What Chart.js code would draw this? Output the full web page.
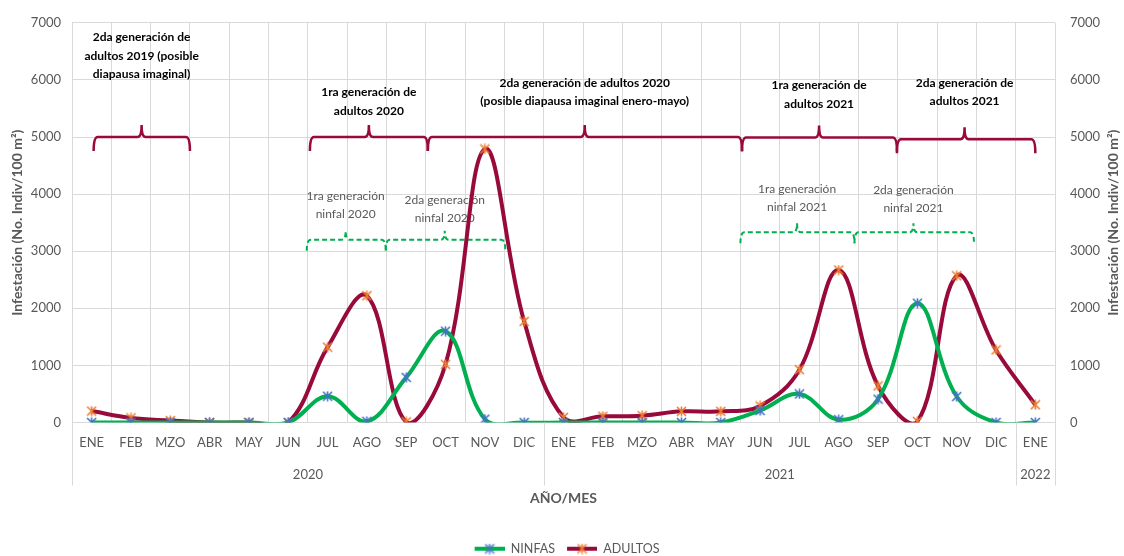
<!DOCTYPE html>
<html>
<head>
<meta charset="utf-8">
<script src="https://cdn.jsdelivr.net/npm/chart.js@4.4.1/dist/chart.umd.min.js"></script>
<style>
    html, body { margin: 0; padding: 0; background: #fff; }
</style>
</head>
<body>
<canvas id="infestChart" width="1124" height="556"></canvas>
<script>
// Data
const months = ['ENE', 'FEB', 'MZO', 'ABR', 'MAY', 'JUN', 'JUL', 'AGO', 'SEP', 'OCT', 'NOV', 'DIC',
                'ENE', 'FEB', 'MZO', 'ABR', 'MAY', 'JUN', 'JUL', 'AGO', 'SEP', 'OCT', 'NOV', 'DIC',
                'ENE'];
const years = ['2020', '2021', '2022'];
const yearStart = [0, 12, 24];
const yearEnd = [11, 23, 24];
const ninfas = [0, 0, 0, 0, 0, 0, 460, 20, 790, 1600, 60, 0,
                0, 0, 0, 0, 0, 210, 500, 50, 410, 2090, 455, 0,
                0];
const adultos = [200, 80, 35, 0, 0, 0, 1320, 2220, 10, 1020, 4790, 1770,
                 90, 110, 120, 195, 195, 290, 925, 2670, 640, 20, 2570, 1270,
                 310];
const yTicks = [0, 1000, 2000, 3000, 4000, 5000, 6000, 7000];

// Generation brackets: from / to / tip in month index, level in individuals
const adultBrackets = [
    { from: 0.05, to: 2.5, tip: 1.27, level: 5000, text: ['2da generación de', 'adultos 2019 (posible', 'diapausa imaginal)'], textAt: 6095 },
    { from: 5.55, to: 8.55, tip: 7.05, level: 5000, text: ['1ra generación de', 'adultos 2020'], textAt: 5460 },
    { from: 8.55, to: 16.54, tip: 12.54, level: 5000, text: ['2da generación de adultos 2020', '(posible diapausa imaginal enero-mayo)'], textAt: 5620 },
    { from: 16.54, to: 20.48, tip: 18.5, level: 4990, text: ['1ra generación de', 'adultos 2021'], textAt: 5580 },
    { from: 20.48, to: 24.0, tip: 22.2, level: 4960, text: ['2da generación de', 'adultos 2021'], textAt: 5620 }
];
const nymphBrackets = [
    { from: 5.47, to: 7.48, tip: 6.46, level: 3200, text: ['1ra generación', 'ninfal 2020'], textAt: 3655 },
    { from: 7.48, to: 10.52, tip: 8.98, level: 3200, text: ['2da generación', 'ninfal 2020'], textAt: 3585 },
    { from: 16.5, to: 19.4, tip: 17.94, level: 3330, text: ['1ra generación', 'ninfal 2021'], textAt: 3775 },
    { from: 19.4, to: 22.44, tip: 20.9, level: 3330, text: ['2da generación', 'ninfal 2021'], textAt: 3755 }
];

const FONT = "Lato, 'Liberation Sans', Arial, sans-serif";
const GRID = '#d9d9d9';
const TEXT = '#595959';
const GREEN = '#00b050';
const WINE = '#990a3c';

// Excel-like asterisk marker
function makeMarker(color, size) {
    const c = document.createElement('canvas');
    c.width = size; c.height = size;
    const g = c.getContext('2d');
    const h = size / 2, r = size / 2 - 1;
    g.strokeStyle = color;
    g.lineWidth = 1.6;
    g.beginPath();
    g.moveTo(h - r, h - r); g.lineTo(h + r, h + r);
    g.moveTo(h + r, h - r); g.lineTo(h - r, h + r);
    g.moveTo(h, h - r - 0.5); g.lineTo(h, h + r + 0.5);
    g.stroke();
    return c;
}

// legend symbol: short line with the marker, some blank room on the left
function makeLegendIcon(lineColor, markerColor) {
    const c = document.createElement('canvas');
    c.width = 40; c.height = 12;
    const g = c.getContext('2d');
    g.strokeStyle = lineColor;
    g.lineWidth = 4;
    g.beginPath(); g.moveTo(10, 6); g.lineTo(40, 6); g.stroke();
    g.drawImage(makeMarker(markerColor, 11), 19.5, 0.5);
    return c;
}

const blueStar = makeMarker('#4472c4', 11);
const orangeStar = makeMarker('#ed7d31', 11);

function drawBrace(ctx, x1, x2, xm, y, hook, tip) {
    const r = 4;
    ctx.beginPath();
    ctx.moveTo(x1, y + hook);
    ctx.quadraticCurveTo(x1, y, x1 + r, y);
    ctx.lineTo(xm - r, y);
    ctx.quadraticCurveTo(xm, y, xm, y - tip);
    ctx.quadraticCurveTo(xm, y, xm + r, y);
    ctx.lineTo(x2 - r, y);
    ctx.quadraticCurveTo(x2, y, x2, y + hook);
    ctx.stroke();
}

// Brackets and generation labels, drawn under the lines
const bracketPlugin = {
    id: 'brackets',
    afterInit(chart) {
        // legend sits closer to the bottom edge than Chart.js puts it
        const lg = chart.legend;
        if (lg) {
            const fit = lg.fit.bind(lg);
            lg.fit = function () { fit(); this.height -= 9; };
        }
    },
    beforeDatasetsDraw(chart) {
        const ctx = chart.ctx;
        const xs = chart.scales.x;
        const ys = chart.scales.y;
        ctx.save();
        ctx.textAlign = 'center';
        ctx.textBaseline = 'middle';

        ctx.strokeStyle = WINE;
        ctx.lineWidth = 2.5;
        ctx.setLineDash([]);
        adultBrackets.forEach(b => {
            drawBrace(ctx, xs.getPixelForValue(b.from), xs.getPixelForValue(b.to),
                xs.getPixelForValue(b.tip), ys.getPixelForValue(b.level), 14, 12);
        });
        ctx.fillStyle = '#000';
        ctx.font = 'bold 12px ' + FONT;
        adultBrackets.forEach(b => {
            const x = xs.getPixelForValue(b.tip);
            const yLast = ys.getPixelForValue(b.textAt);
            b.text.forEach((line, i) => {
                ctx.fillText(line, x, yLast - (b.text.length - 1 - i) * 18.5);
            });
        });

        ctx.strokeStyle = GREEN;
        ctx.lineWidth = 2;
        ctx.setLineDash([5, 3]);
        nymphBrackets.forEach(b => {
            drawBrace(ctx, xs.getPixelForValue(b.from), xs.getPixelForValue(b.to),
                xs.getPixelForValue(b.tip), ys.getPixelForValue(b.level), 11, 9);
        });
        ctx.setLineDash([]);
        ctx.fillStyle = TEXT;
        ctx.font = '12px ' + FONT;
        nymphBrackets.forEach(b => {
            const x = xs.getPixelForValue(b.tip);
            const yLast = ys.getPixelForValue(b.textAt);
            b.text.forEach((line, i) => {
                ctx.fillText(line, x, yLast - (b.text.length - 1 - i) * 17.5);
            });
        });
        ctx.restore();
    },
    afterDraw(chart) {
        // year separators under the month labels
        const ctx = chart.ctx;
        const yr = chart.scales.x2;
        const bottom = chart.chartArea.bottom;
        ctx.save();
        ctx.strokeStyle = GRID;
        ctx.lineWidth = 1;
        const cuts = [yearStart[0] - 0.5].concat(yearEnd.map(v => v + 0.5));
        cuts.forEach(v => {
            const x = Math.round(yr.getPixelForValue(v)) + 0.5;
            ctx.beginPath();
            ctx.moveTo(x, bottom);
            ctx.lineTo(x, yr.top + 28);
            ctx.stroke();
        });

        // right axis title, reading bottom to top like the left one
        const y2 = chart.scales.y2;
        ctx.translate(y2.right - 11, (chart.chartArea.top + chart.chartArea.bottom) / 2);
        ctx.rotate(-Math.PI / 2);
        ctx.fillStyle = TEXT;
        ctx.font = 'bold 14px ' + FONT;
        ctx.textAlign = 'center';
        ctx.textBaseline = 'middle';
        ctx.fillText('Infestación (No. Indiv/100 m²)', 0, 0);
        ctx.restore();
    }
};

const yearCenters = yearStart.map((s, i) => (s + yearEnd[i]) / 2);

new Chart(document.getElementById('infestChart'), {
    type: 'line',
    data: {
        labels: months,
        datasets: [
            {
                label: 'NINFAS',
                data: ninfas,
                borderColor: GREEN,
                borderWidth: 4,
                pointStyle: blueStar,
                tension: 0.38,
                xAxisID: 'x',
                yAxisID: 'y'
            },
            {
                label: 'ADULTOS',
                data: adultos,
                borderColor: WINE,
                borderWidth: 4,
                pointStyle: orangeStar,
                tension: 0.38,
                xAxisID: 'x',
                yAxisID: 'y'
            }
        ]
    },
    options: {
        responsive: false,
        animation: false,
        layout: { autoPadding: false, padding: { top: 17, right: 0, bottom: 0, left: 0 } },
        elements: { line: { capBezierPoints: false, fill: false } },
        plugins: {
            tooltip: { enabled: false },
            legend: {
                position: 'bottom',
                labels: {
                    usePointStyle: true,
                    pointStyleWidth: 40,
                    color: TEXT,
                    font: { family: FONT, size: 12.5 },
                    padding: 2,
                    generateLabels(chart) {
                        return chart.data.datasets.map((ds, i) => ({
                            text: ds.label,
                            pointStyle: makeLegendIcon(ds.borderColor, i === 0 ? '#4472c4' : '#ed7d31'),
                            fillStyle: ds.borderColor,
                            strokeStyle: ds.borderColor,
                            lineWidth: 0,
                            fontColor: TEXT,
                            datasetIndex: i
                        }));
                    }
                }
            }
        },
        scales: {
            x: {
                type: 'category',
                position: 'bottom',
                offset: true,
                grid: { offset: true, color: GRID, drawTicks: false },
                border: { display: false },
                ticks: { color: TEXT, font: { family: FONT, size: 13 }, padding: 13, autoSkip: false, maxRotation: 0 },
                afterFit(s) { s.height = 35; }
            },
            x2: {
                type: 'linear',
                position: 'bottom',
                min: yearStart[0] - 0.5,
                max: yearEnd[yearEnd.length - 1] + 0.5,
                grid: { display: false, drawTicks: false, tickLength: 0 },
                border: { display: false },
                afterBuildTicks(s) { s.ticks = yearCenters.map(v => ({ value: v })); },
                ticks: {
                    autoSkip: false,
                    maxRotation: 0,
                    padding: 10,
                    color: TEXT,
                    font: { family: FONT, size: 13 },
                    callback: (v) => years[yearCenters.indexOf(v)]
                },
                title: { display: true, text: 'AÑO/MES', color: TEXT, font: { family: FONT, size: 14, weight: 'bold' }, padding: { top: 0, bottom: 34 } },
                afterFit(s) { s.height = 83; }
            },
            y: {
                position: 'left',
                min: 0,
                max: 7000,
                afterBuildTicks(s) { s.ticks = yTicks.map(v => ({ value: v })); },
                grid: { color: GRID, drawTicks: false },
                border: { display: false },
                ticks: { color: TEXT, font: { family: FONT, size: 13 }, padding: 11, callback: v => String(v) },
                title: { display: true, text: 'Infestación (No. Indiv/100 m²)', color: TEXT, font: { family: FONT, size: 14, weight: 'bold' }, padding: { top: 9, bottom: 4 } },
                afterFit(s) { s.width = 72; }
            },
            y2: {
                position: 'right',
                min: 0,
                max: 7000,
                afterBuildTicks(s) { s.ticks = yTicks.map(v => ({ value: v })); },
                grid: { display: false, drawTicks: false },
                border: { display: false },
                ticks: { color: TEXT, font: { family: FONT, size: 13 }, padding: 15, callback: v => String(v) },
                afterFit(s) { s.width = 69; }
            }
        }
    },
    plugins: [bracketPlugin]
});
</script>
</body>
</html>
